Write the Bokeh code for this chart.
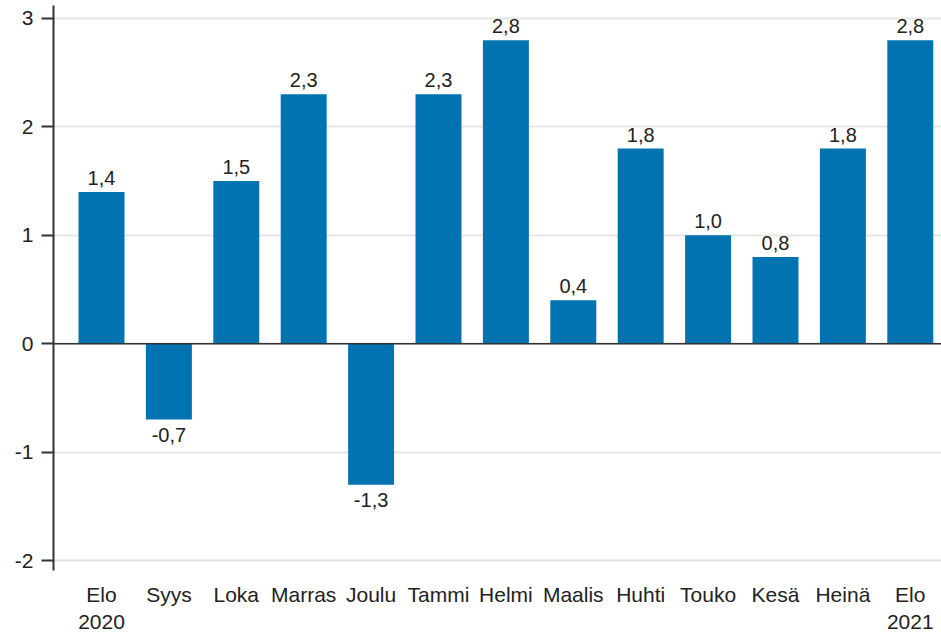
from bokeh.plotting import figure
from bokeh.models import ColumnDataSource, FixedTicker, Range1d, Span, LabelSet
from bokeh.core.properties import value
from bokeh.embed import file_html
from bokeh.resources import INLINE

categories = ["Elo\n2020", "Syys", "Loka", "Marras", "Joulu", "Tammi", "Helmi",
              "Maalis", "Huhti", "Touko", "Kesä", "Heinä", "Elo\n2021"]
values = [1.4, -0.7, 1.5, 2.3, -1.3, 2.3, 2.8, 0.4, 1.8, 1.0, 0.8, 1.8, 2.8]
y_ticks = [-2, -1, 0, 1, 2, 3]

FONT = "Liberation Sans"
BAR = "#0073b0"
TXT = "#222222"

xs = list(range(len(categories)))
labels = [f"{v:.1f}".replace(".", ",") for v in values]
pos = [v >= 0 for v in values]

src_pos = ColumnDataSource(dict(x=[x for x, p in zip(xs, pos) if p],
                                y=[v for v, p in zip(values, pos) if p],
                                t=[l for l, p in zip(labels, pos) if p]))
src_neg = ColumnDataSource(dict(x=[x for x, p in zip(xs, pos) if not p],
                                y=[v for v, p in zip(values, pos) if not p],
                                t=[l for l, p in zip(labels, pos) if not p]))
src = ColumnDataSource(dict(x=xs, top=values))

p = figure(width=941, height=636, output_backend="svg", toolbar_location=None,
           x_range=Range1d(-0.712, 12.463), y_range=Range1d(-2.092, 3.1195),
           min_border_left=53, min_border_right=0, min_border_top=5, min_border_bottom=64)
p.outline_line_color = None
p.background_fill_color = "white"

p.vbar(x="x", top="top", bottom=0, width=0.682, source=src,
       fill_color=BAR, line_color=None)

zero = Span(location=0, dimension="width", line_color="#333333", line_width=1.6)
p.add_layout(zero)

lab_pos = LabelSet(x="x", y="y", text="t", source=src_pos, text_align="center",
                   text_baseline="alphabetic", y_offset=7, text_font=value(FONT),
                   text_font_size="20px", text_color=TXT)
lab_neg = LabelSet(x="x", y="y", text="t", source=src_neg, text_align="center",
                   text_baseline="top", y_offset=-8, text_font=value(FONT),
                   text_font_size="20px", text_color=TXT)
p.add_layout(lab_pos)
p.add_layout(lab_neg)

# x axis
p.xaxis.ticker = FixedTicker(ticks=xs)
p.xaxis.major_label_overrides = {i: c for i, c in enumerate(categories)}
p.xaxis.axis_line_color = None
p.xaxis.major_tick_line_color = None
p.xaxis.minor_tick_line_color = None
p.xaxis.major_label_standoff = 6
p.xaxis.major_label_text_font = FONT
p.xaxis.major_label_text_font_size = "21px"
p.xaxis.major_label_text_color = TXT
p.xgrid.grid_line_color = None

# y axis
p.yaxis.ticker = FixedTicker(ticks=y_ticks)
p.yaxis.major_label_overrides = {t: str(t) for t in y_ticks}
p.yaxis.axis_line_color = "#333333"
p.yaxis.axis_line_width = 2
p.yaxis.major_tick_line_color = "#333333"
p.yaxis.major_tick_line_width = 2
p.yaxis.major_tick_out = 12
p.yaxis.major_tick_in = 0
p.yaxis.minor_tick_line_color = None
p.yaxis.major_label_standoff = 8
p.yaxis.major_label_text_font = FONT
p.yaxis.major_label_text_font_size = "21px"
p.yaxis.major_label_text_color = TXT
p.ygrid.grid_line_color = "#e6e6e6"
p.ygrid.grid_line_width = 2

open("out.html", "w").write(file_html(p, INLINE))
